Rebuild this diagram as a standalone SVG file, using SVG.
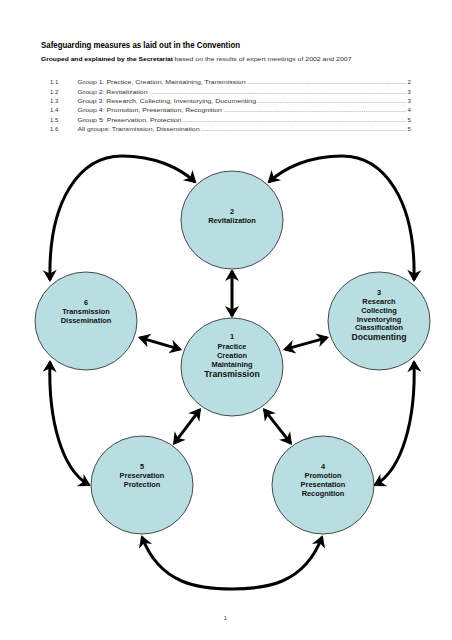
<svg xmlns="http://www.w3.org/2000/svg" width="452" height="640" viewBox="0 0 452 640">
<style>
.hdr{font-family:"Liberation Sans",Arial,sans-serif;fill:#000}
.toc{font-family:"Liberation Sans",Arial,sans-serif;font-size:6px;fill:#333}
.node ellipse{fill:#b9dee2;stroke:#222;stroke-width:0.8}
.node text{font-family:"Liberation Sans",Arial,sans-serif;font-weight:bold;font-size:7.4px;fill:#111;text-anchor:middle}
.node text.big{font-size:8.6px}
.conn path{fill:none;stroke:#000;stroke-width:3;marker-start:url(#ah);marker-end:url(#ah)}
</style>
<defs>
<marker id="ah" markerUnits="userSpaceOnUse" viewBox="-12 -8 16 16" refX="0" refY="0" markerWidth="16" markerHeight="16" orient="auto-start-reverse">
<path d="M2,0 L-10,-7 L-6.5,0 L-10,7 Z" fill="#000"/>
</marker>
</defs>
<rect width="452" height="640" fill="#fff"/>
<text class="hdr" x="41" y="47.5" font-size="8.5" font-weight="bold" textLength="199" lengthAdjust="spacingAndGlyphs">Safeguarding measures as laid out in the Convention</text>
<text class="hdr" x="41" y="61" font-size="6.2"><tspan font-weight="bold" textLength="132" lengthAdjust="spacingAndGlyphs">Grouped and explained by the Secretariat</tspan><tspan fill="#333" dx="1.5" textLength="177" lengthAdjust="spacingAndGlyphs">based on the results of expert meetings of 2002 and 2007</tspan></text>
<g class="toc">
<text x="50" y="84.3">1.1</text><text x="77.5" y="84.3" textLength="168" lengthAdjust="spacingAndGlyphs">Group 1: Practice, Creation, Maintaining, Transmission</text><text x="248" y="84.3" textLength="158" lengthAdjust="spacing">.....................................................................................</text><text x="407.5" y="84.3">2</text>
<text x="50" y="93.7">1.2</text><text x="77.5" y="93.7" textLength="70" lengthAdjust="spacingAndGlyphs">Group 2: Revitalization</text><text x="150" y="93.7" textLength="256" lengthAdjust="spacing">..............................................................................................................................................</text><text x="407.5" y="93.7">3</text>
<text x="50" y="103">1.3</text><text x="77.5" y="103" textLength="178.5" lengthAdjust="spacingAndGlyphs">Group 3: Research, Collecting, Inventorying, Documenting</text><text x="257" y="103" textLength="149" lengthAdjust="spacing">................................................................................</text><text x="407.5" y="103">3</text>
<text x="50" y="112.3">1.4</text><text x="77.5" y="112.3" textLength="144.5" lengthAdjust="spacingAndGlyphs">Group 4: Promotion, Presentation, Recognition</text><text x="224.5" y="112.3" textLength="181.5" lengthAdjust="spacing">..................................................................................................</text><text x="407.5" y="112.3">4</text>
<text x="50" y="121.7">1.5</text><text x="77.5" y="121.7" textLength="104" lengthAdjust="spacingAndGlyphs">Group 5: Preservation, Protection</text><text x="183" y="121.7" textLength="223" lengthAdjust="spacing">........................................................................................................................</text><text x="407.5" y="121.7">5</text>
<text x="50" y="131">1.6</text><text x="77.5" y="131" textLength="122" lengthAdjust="spacingAndGlyphs">All groups: Transmission, Dissemination</text><text x="201" y="131" textLength="205" lengthAdjust="spacing">..............................................................................................................</text><text x="407.5" y="131">5</text>
</g>
<g class="conn">
<path d="M50,280 C48,200 80,156 122,156 C155,156 180,168 195,182"/>
<path d="M269,182 C284,168 309,156 342,156 C384,156 416,200 414,280"/>
<path d="M50,362 C48,420 62,470 89,485"/>
<path d="M414,362 C416,420 402,470 375,485"/>
<path d="M142,537 C160,585 200,589 232,589 C264,589 304,585 322,537"/>
<path d="M232,271 L232,316"/>
<path d="M139.9,337.6 L180.1,349.4"/>
<path d="M327.1,337.6 L284.9,349.4"/>
<path d="M199.8,409.6 L174.2,443.4"/>
<path d="M264.2,409.6 L290.8,443.4"/>
</g>
<g id="node2" class="node"><ellipse cx="232" cy="220" rx="51" ry="49"/><text x="232" y="213.7">2</text><text x="232" y="223.2">Revitalization</text></g>
<g id="node1" class="node"><ellipse cx="232" cy="367" rx="51" ry="49"/><text x="232" y="339.4">1</text><text x="232" y="349">Practice</text><text x="232" y="357.7">Creation</text><text x="232" y="367">Maintaining</text><text class="big" x="232" y="377.1">Transmission</text></g>
<g id="node6" class="node"><ellipse cx="86" cy="321" rx="51" ry="49"/><text x="86" y="304.7">6</text><text x="86" y="314.2">Transmission</text><text x="86" y="323.2">Dissemination</text></g>
<g id="node3" class="node"><ellipse cx="379" cy="321" rx="51" ry="49"/><text x="379" y="295.4">3</text><text x="379" y="304.4">Research</text><text x="379" y="313">Collecting</text><text x="379" y="321.7">Inventorying</text><text x="379" y="330.4">Classification</text><text class="big" x="379" y="340.1">Documenting</text></g>
<g id="node5" class="node"><ellipse cx="142" cy="485" rx="51" ry="49"/><text x="142" y="469.4">5</text><text x="142" y="478.4">Preservation</text><text x="142" y="487.4">Protection</text></g>
<g id="node4" class="node"><ellipse cx="323" cy="485" rx="51" ry="49"/><text x="323" y="469">4</text><text x="323" y="478.4">Promotion</text><text x="323" y="487">Presentation</text><text x="323" y="496">Recognition</text></g>
<text class="toc" x="225.5" y="620" text-anchor="middle">1</text>
</svg>
